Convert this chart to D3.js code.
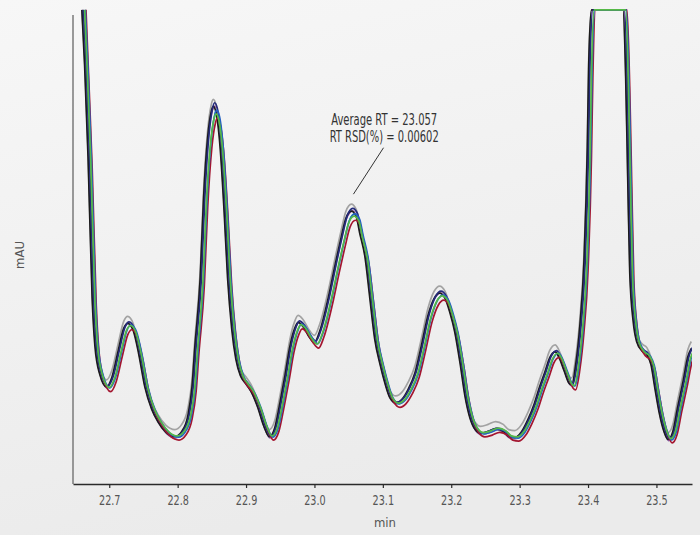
<!DOCTYPE html>
<html>
<head>
<meta charset="utf-8">
<script src="https://cdn.jsdelivr.net/npm/d3@7"></script>
<style>
  body { margin: 0; background: #f1f1f1; }
  svg { display: block; }
  text { font-family: "Liberation Sans Narrow", "DejaVu Sans Condensed", "Roboto", sans-serif; }
</style>
</head>
<body>
<div id="chart"></div>
<script>
// Retention time (min) of the reference trace
const times = [
  22.663, 22.667, 22.672, 22.678, 22.682, 22.689, 22.699, 22.707, 22.716, 22.724,
  22.730, 22.738, 22.746, 22.755, 22.765, 22.774, 22.786, 22.799, 22.809, 22.818,
  22.824, 22.828, 22.836, 22.841, 22.847, 22.852, 22.855, 22.859, 22.865, 22.871,
  22.876, 22.882, 22.888, 22.895, 22.903, 22.910, 22.920, 22.929, 22.937, 22.945,
  22.953, 22.960, 22.967, 22.974, 22.979, 22.986, 22.995, 23.003, 23.011, 23.023,
  23.033, 23.042, 23.049, 23.057, 23.064, 23.069, 23.077, 23.084, 23.091, 23.099,
  23.106, 23.113, 23.122, 23.131, 23.140, 23.150, 23.159, 23.169, 23.178, 23.186,
  23.194, 23.201, 23.208, 23.216, 23.223, 23.230, 23.238, 23.246, 23.257, 23.268,
  23.279, 23.287, 23.296, 23.306, 23.315, 23.324, 23.331, 23.340, 23.347, 23.355,
  23.360, 23.368, 23.375, 23.379, 23.385, 23.391, 23.397, 23.402, 23.404, 23.408,
  23.416, 23.446, 23.454, 23.458, 23.461, 23.464, 23.469, 23.474, 23.482, 23.489,
  23.495, 23.501, 23.507, 23.514, 23.520, 23.527, 23.534, 23.542, 23.549, 23.554
];
// Detector response (mAU, relative) of the reference trace
const signal = [
  108.0, 88.3, 69.1, 39.2, 29.2, 23.2, 20.5, 22.6, 28.1, 32.8,
  33.9, 32.4, 27.5, 20.5, 15.8, 13.2, 10.9, 10.0, 11.1, 14.5,
  20.5, 28.6, 43.5, 60.6, 73.3, 78.5, 79.7, 78.5, 71.2, 57.4,
  43.5, 32.8, 26.4, 22.8, 21.1, 19.6, 16.2, 12.2, 10.0, 11.9,
  17.5, 23.0, 29.0, 32.8, 34.1, 33.3, 31.1, 29.9, 32.4, 39.2,
  46.1, 52.0, 56.1, 57.6, 56.5, 53.1, 47.8, 39.2, 30.7, 25.2,
  21.3, 18.3, 17.1, 17.9, 20.0, 23.5, 29.0, 35.6, 39.2, 40.3,
  39.2, 36.2, 32.2, 25.4, 18.6, 14.1, 11.5, 10.7, 11.1, 11.7,
  11.1, 10.0, 9.8, 11.1, 13.6, 16.8, 20.0, 23.7, 26.7, 27.9,
  26.9, 23.9, 21.3, 20.9, 25.2, 33.3, 46.7, 71.2, 88.3, 106.0,
  140.0, 140.0, 106.0, 86.1, 64.8, 44.6, 34.3, 30.1, 28.1, 27.3,
  25.2, 20.0, 15.1, 11.1, 9.4, 11.1, 16.2, 21.7, 26.9, 28.6
];
const SATURATION = 101.1;

// Replicate injections: retention shift (min), response factor, baseline offset
const runColors = ["#a3a3a3", "#d98bc6", "#8b5ba8", "#45b9c9", "#eef6f8", "#1b1b1b", "#242a7a", "#a3152f", "#2461c2", "#55b947"];
const runShift  = [-0.003, -0.001, -0.002, 0.001, 0.000, -0.003, -0.001, 0.003, 0.002, 0.001];
const runScale  = [1.01, 1.01, 1.015, 1.00, 1.005, 1.01, 1.02, 0.985, 1.00, 0.985];
const runOffset = [1.5, 0.0, -0.3, 0.0, 0.0, 0.0, 0.0, -0.5, 0.0, 0.4];

const xTicks = [22.7, 22.8, 22.9, 23.0, 23.1, 23.2, 23.3, 23.4, 23.5];
const annotationLines = ["Average RT = 23.057", "RT RSD(%) = 0.00602"];

var width = 700, height = 535;

var svg = d3.select("#chart")
  .append("svg")
  .attr("width", width)
  .attr("height", height);

// light grey backdrop
var defs = svg.append("defs");
var grad = defs.append("linearGradient")
  .attr("id", "bg")
  .attr("x1", "0").attr("y1", "0")
  .attr("x2", "0.3").attr("y2", "1");
grad.append("stop").attr("offset", "0%").attr("stop-color", "#f7f7f7");
grad.append("stop").attr("offset", "100%").attr("stop-color", "#ebebeb");
svg.append("rect").attr("width", width).attr("height", height).attr("fill", "url(#bg)");

var x = d3.scaleLinear().domain([22.647, 23.552]).range([73, 692]);
var y = d3.scaleLinear().domain([0, 100]).range([484, 15]);

defs.append("clipPath").attr("id", "plotclip")
  .append("rect")
  .attr("x", x.range()[0]).attr("y", 0)
  .attr("width", x.range()[1] - x.range()[0]).attr("height", y.range()[0]);

// traces
var line = d3.line()
  .x(d => x(d.t))
  .y(d => y(d.v))
  .curve(d3.curveMonotoneX);

var runs = runColors.map((c, r) => times.map((t, i) => ({
  t: t + runShift[r],
  v: Math.min(SATURATION, signal[i] * runScale[r] + runOffset[r])
})));

svg.append("g")
  .attr("clip-path", "url(#plotclip)")
  .selectAll("path")
  .data(runs)
  .enter()
  .append("path")
    .attr("fill", "none")
    .attr("stroke", (d, i) => runColors[i])
    .attr("stroke-width", 1.7)
    .attr("stroke-linejoin", "round")
    .attr("d", line);

// y axis: plain line, no ticks
svg.append("line")
  .attr("x1", x.range()[0]).attr("x2", x.range()[0])
  .attr("y1", y(100)).attr("y2", y(0))
  .attr("stroke", "#7a7a7a")
  .attr("stroke-width", 1.5);

// x axis
var xAxis = svg.append("g")
  .attr("transform", "translate(0," + y(0) + ")")
  .call(d3.axisBottom(x).tickValues(xTicks).tickSize(4).tickSizeOuter(0).tickPadding(7).tickFormat(d3.format(".1f")));
xAxis.select(".domain").attr("stroke", "#2a2a2a").attr("stroke-width", 1.3);
xAxis.selectAll(".tick line").attr("stroke", "#2a2a2a").attr("stroke-width", 1.2);
xAxis.selectAll(".tick text")
  .attr("fill", "#555")
  .style("font-size", "13.5px")
  .attr("textLength", 21.5)
  .attr("lengthAdjust", "spacingAndGlyphs");

// axis titles
svg.append("text")
  .attr("x", 385).attr("y", 527)
  .attr("text-anchor", "middle")
  .attr("fill", "#555")
  .style("font-size", "13px")
  .text("min");

svg.append("text")
  .attr("transform", "translate(24,255) rotate(-90)")
  .attr("text-anchor", "middle")
  .attr("fill", "#555")
  .style("font-size", "13px")
  .text("mAU");

// annotation for the 23.057 peak
var ann = svg.append("g");
ann.selectAll("text")
  .data(annotationLines)
  .enter()
  .append("text")
    .attr("x", x(23.102))
    .attr("y", (d, i) => 125 + i * 16.5)
    .attr("text-anchor", "middle")
    .attr("fill", "#333")
    .style("font-size", "15px")
    .attr("textLength", (d, i) => i === 0 ? 106 : 109)
    .attr("lengthAdjust", "spacingAndGlyphs")
    .text(d => d);

ann.append("line")
  .attr("x1", x(23.101)).attr("y1", y(71.7))
  .attr("x2", x(23.057)).attr("y2", y(61.8))
  .attr("stroke", "#333")
  .attr("stroke-width", 1);
</script>
</body>
</html>
